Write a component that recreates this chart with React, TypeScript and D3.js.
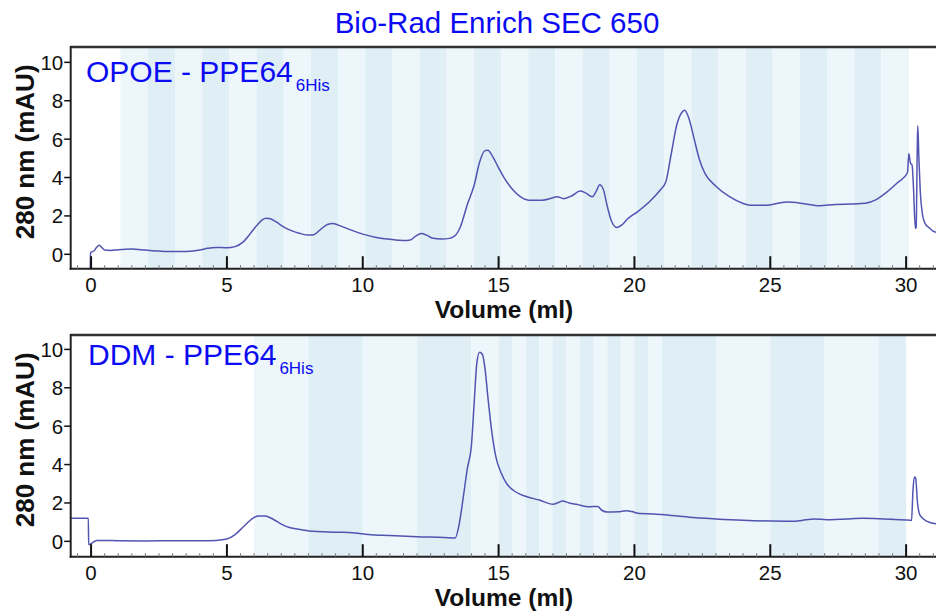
import * as d3 from "d3";
import { useEffect, useRef } from "react";

// chromatogram readings: [volume (ml), absorbance 280 nm (mAU)]
const opoeTrace: [number, number][] = [
  [-0.03, -0.8], [-0.02, 0.1], [0.05, 0.14], [0.12, 0.2], [0.2, 0.36], [0.3, 0.47], [0.4, 0.35],
  [0.5, 0.22], [0.7, 0.2], [1.0, 0.24], [1.5, 0.27], [2.0, 0.22], [2.5, 0.17], [3.0, 0.14],
  [3.5, 0.15], [4.0, 0.22], [4.3, 0.32], [4.6, 0.36], [5.0, 0.34], [5.3, 0.4], [5.6, 0.65],
  [5.9, 1.15], [6.1, 1.5], [6.3, 1.8], [6.45, 1.88], [6.6, 1.85], [6.8, 1.7], [7.1, 1.42],
  [7.4, 1.22], [7.7, 1.08], [8.0, 1.0], [8.2, 1.02], [8.45, 1.3], [8.7, 1.55], [8.9, 1.6],
  [9.1, 1.52], [9.5, 1.3], [10.0, 1.05], [10.5, 0.88], [11.0, 0.78], [11.5, 0.72], [11.75, 0.75],
  [11.95, 0.95], [12.15, 1.08], [12.35, 1.0], [12.55, 0.85], [12.9, 0.8], [13.2, 0.83],
  [13.45, 1.05], [13.6, 1.45], [13.85, 2.6], [14.1, 3.6], [14.3, 4.8], [14.5, 5.4], [14.6, 5.42],
  [14.8, 5.05], [15.0, 4.5], [15.2, 4.0], [15.5, 3.4], [15.8, 3.0], [16.1, 2.82], [16.6, 2.82],
  [17.0, 2.95], [17.15, 3.0], [17.4, 2.9], [17.7, 3.05], [18.0, 3.3], [18.2, 3.2], [18.45, 3.0],
  [18.6, 3.3], [18.72, 3.62], [18.85, 3.4], [19.0, 2.5], [19.15, 1.75], [19.35, 1.4], [19.55, 1.55],
  [19.75, 1.85], [20.1, 2.2], [20.6, 2.8], [20.95, 3.35], [21.15, 3.75], [21.35, 5.2], [21.55, 6.7],
  [21.75, 7.4], [21.85, 7.5], [22.0, 7.1], [22.2, 6.0], [22.4, 4.9], [22.6, 4.2], [23.0, 3.55],
  [23.5, 3.0], [24.0, 2.65], [24.3, 2.55], [24.8, 2.55], [25.6, 2.72], [26.2, 2.65], [26.8, 2.53],
  [27.4, 2.6], [28.0, 2.62], [28.5, 2.66], [28.9, 2.85], [29.3, 3.25], [29.7, 3.75], [30.05, 4.25],
  [30.1, 5.25], [30.16, 4.75], [30.22, 4.65], [30.27, 3.5], [30.34, 1.35], [30.37, 1.4],
  [30.41, 5.5], [30.43, 6.7], [30.47, 5.0], [30.52, 3.3], [30.6, 2.1], [30.7, 1.6], [30.85, 1.38],
  [31.0, 1.2], [31.1, 1.15],
];

const ddmTrace: [number, number][] = [
  [-0.8, 1.2], [-0.1, 1.2], [-0.09, -0.17], [0.0, -0.12], [0.2, 0.05], [0.5, 0.05], [1.0, 0.03],
  [2.0, 0.02], [3.0, 0.03], [4.0, 0.03], [4.6, 0.05], [5.0, 0.12], [5.3, 0.35], [5.6, 0.75],
  [5.9, 1.15], [6.15, 1.32], [6.4, 1.32], [6.7, 1.15], [7.0, 0.9], [7.3, 0.72], [7.7, 0.62],
  [8.2, 0.52], [9.0, 0.48], [9.7, 0.44], [10.2, 0.36], [11.0, 0.3], [12.0, 0.24], [13.0, 0.2],
  [13.4, 0.17], [13.55, 0.9], [13.7, 2.3], [13.85, 3.8], [14.0, 5.0], [14.1, 7.2], [14.2, 9.3],
  [14.3, 9.85], [14.4, 9.75], [14.5, 9.0], [14.6, 7.6], [14.75, 5.7], [14.9, 4.4], [15.1, 3.55],
  [15.3, 3.0], [15.55, 2.65], [15.8, 2.45], [16.1, 2.3], [16.5, 2.15], [17.0, 1.93], [17.2, 2.02],
  [17.35, 2.1], [17.6, 2.0], [17.9, 1.92], [18.3, 1.8], [18.65, 1.82], [18.8, 1.62], [19.0, 1.53],
  [19.4, 1.54], [19.7, 1.6], [19.9, 1.55], [20.2, 1.45], [20.7, 1.43], [21.0, 1.4], [22.0, 1.26],
  [23.0, 1.17], [24.0, 1.1], [25.0, 1.06], [25.9, 1.05], [26.3, 1.12], [26.6, 1.17], [27.1, 1.13],
  [27.8, 1.17], [28.4, 1.2], [29.0, 1.18], [29.6, 1.14], [30.15, 1.1], [30.2, 1.08], [30.25, 2.6],
  [30.3, 3.35], [30.35, 3.3], [30.42, 2.0], [30.5, 1.4], [30.65, 1.15], [30.9, 0.97], [31.1, 0.92],
];

// fraction shading edges (ml), alternating light / dark
const opoeFractions = [
  1.08, 2.08, 3.09, 4.09, 5.09, 6.09, 7.09, 8.09, 9.09, 10.09, 11.09, 12.09, 13.09, 14.09, 15.09,
  16.09, 17.09, 18.09, 19.09, 20.09, 21.09, 22.09, 23.09, 24.09, 25.09, 26.09, 27.09, 28.09, 29.09, 30.1,
];
const ddmFractions = [
  6, 8, 10, 12, 14, 15, 15.5, 16, 16.5, 17, 17.5, 18, 18.5, 19, 19.5, 20, 20.5, 21, 23, 25, 27, 29, 30,
];

const xTicks = [0, 5, 10, 15, 20, 25, 30];
const yTicks = [0, 2, 4, 6, 8, 10];

const title = "Bio-Rad Enrich SEC 650";
const panelNames = ["OPOE - PPE64", "DDM - PPE64"];
const tagSub = "6His";
const xTitle = "Volume (ml)";
const yTitle = "280 nm (mAU)";

const FONT = "'Liberation Sans', Arial, sans-serif";

const App = () => {
  const svgRef = useRef<SVGSVGElement | null>(null);

  useEffect(() => {
    const svg = d3.select(svgRef.current);
    svg.selectAll("*").remove();

    const left = 70.7, right = 936;
    const x = d3.scaleLinear().domain([-0.75, 31.1]).range([left, right]);

    svg.append("text")
      .attr("x", 497).attr("y", 33)
      .attr("text-anchor", "middle")
      .style("font-family", FONT).style("font-size", "29.5px")
      .attr("fill", "#0b0bf2")
      .text(title);

    const panels = [
      { top: 47, bottom: 268.7, dom: [-0.75, 10.8], data: opoeTrace, bands: opoeFractions, name: panelNames[0], nx: 86, ny: 81.7 },
      { top: 335, bottom: 556.7, dom: [-0.8, 10.75], data: ddmTrace, bands: ddmFractions, name: panelNames[1], nx: 88, ny: 365 },
    ];

    panels.forEach((p, pi) => {
      const y = d3.scaleLinear().domain(p.dom).range([p.bottom, p.top]);
      const g = svg.append("g");

      const clipId = "clip" + pi;
      svg.append("clipPath").attr("id", clipId)
        .append("rect")
        .attr("x", left).attr("y", p.top)
        .attr("width", right - left).attr("height", p.bottom - p.top);

      // fraction bands
      const segs = d3.pairs(p.bands);
      g.append("g").selectAll("rect")
        .data(segs)
        .enter()
        .append("rect")
        .attr("x", (d) => x(d[0]))
        .attr("width", (d) => x(d[1]) - x(d[0]))
        .attr("y", p.top)
        .attr("height", p.bottom - p.top)
        .attr("fill", (_d, i) => (i % 2 === 0 ? "#edf6fa" : "#e0eff5"));

      // trace
      const line = d3.line<[number, number]>()
        .x((d) => x(d[0]))
        .y((d) => y(d[1]))
        .curve(d3.curveMonotoneX);
      g.append("path")
        .datum(p.data)
        .attr("clip-path", `url(#${clipId})`)
        .attr("d", line)
        .attr("fill", "none")
        .attr("stroke", "#4042aa")
        .attr("stroke-opacity", 0.9)
        .attr("stroke-width", 1.5);

      // frame
      g.append("line")
        .attr("x1", left).attr("x2", right).attr("y1", p.top).attr("y2", p.top)
        .attr("stroke", "#333").attr("stroke-width", 2.5);
      g.append("line")
        .attr("x1", left).attr("x2", left).attr("y1", p.top - 1).attr("y2", p.bottom + 1)
        .attr("stroke", "#222").attr("stroke-width", 2);
      g.append("line")
        .attr("x1", left - 1).attr("x2", right).attr("y1", p.bottom).attr("y2", p.bottom)
        .attr("stroke", "#222").attr("stroke-width", 2);

      // x minor ticks every 0.5 ml
      const minor = d3.range(-0.5, 31.1, 0.5).filter((v) => !xTicks.includes(v));
      g.append("g").selectAll("line")
        .data(minor)
        .enter()
        .append("line")
        .attr("x1", (d) => x(d)).attr("x2", (d) => x(d))
        .attr("y1", p.bottom).attr("y2", p.bottom - 3.5)
        .attr("stroke", "#777").attr("stroke-width", 1);

      // x major ticks (inward) + labels
      const xa = g.append("g").selectAll("g").data(xTicks).enter().append("g");
      xa.append("line")
        .attr("x1", (d) => x(d)).attr("x2", (d) => x(d))
        .attr("y1", p.bottom).attr("y2", p.bottom - 12.5)
        .attr("stroke", "#111").attr("stroke-width", 2);
      xa.append("text")
        .attr("x", (d) => x(d)).attr("y", p.bottom + 23.5)
        .attr("text-anchor", "middle")
        .style("font-family", FONT).style("font-size", "20.5px")
        .attr("fill", "#111")
        .text((d) => d);

      // y ticks (outward) + labels
      const ya = g.append("g").selectAll("g").data(yTicks).enter().append("g");
      ya.append("line")
        .attr("x1", left - 6.5).attr("x2", left)
        .attr("y1", (d) => y(d)).attr("y2", (d) => y(d))
        .attr("stroke", "#111").attr("stroke-width", 1.5);
      ya.append("text")
        .attr("x", left - 7.5).attr("y", (d) => y(d))
        .attr("dy", "0.36em")
        .attr("text-anchor", "end")
        .style("font-family", FONT).style("font-size", "20.5px")
        .attr("fill", "#111")
        .text((d) => d);

      // axis titles
      g.append("text")
        .attr("x", 504).attr("y", p.bottom + 49.3)
        .attr("text-anchor", "middle")
        .style("font-family", FONT).style("font-size", "24.5px").style("font-weight", "bold")
        .attr("fill", "#111")
        .text(xTitle);
      g.append("text")
        .attr("transform", `translate(33.5,${(p.top + p.bottom) / 2 - 6}) rotate(-90)`)
        .attr("text-anchor", "middle")
        .style("font-family", FONT).style("font-size", "26px").style("font-weight", "bold")
        .attr("fill", "#111")
        .text(yTitle);

      // sample label with subscript
      const lbl = g.append("text")
        .attr("x", p.nx).attr("y", p.ny)
        .style("font-family", FONT)
        .attr("fill", "#0b0bf2");
      lbl.append("tspan").style("font-size", "30px").text(p.name);
      lbl.append("tspan").attr("dx", 3).attr("dy", 9).style("font-size", "17px").text(tagSub);
    });
  }, []);

  return (
    <svg
      ref={svgRef}
      width={936}
      height={611}
      style={{ position: "absolute", left: 0, top: 0, background: "#fff" }}
    />
  );
};

export default App;
